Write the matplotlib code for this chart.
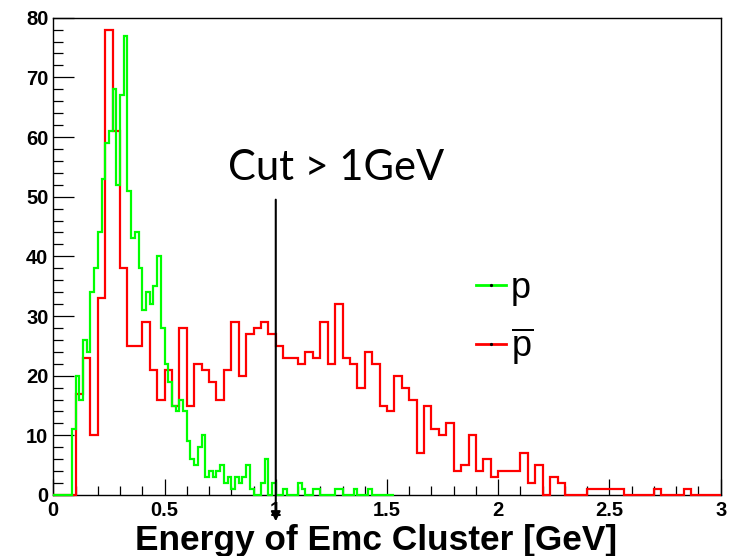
import numpy as np
import matplotlib
matplotlib.use("Agg")
import matplotlib.pyplot as plt
from matplotlib.lines import Line2D
from matplotlib.ticker import MultipleLocator, FixedLocator

# Bin contents of the cluster-energy histograms
# protons: bins of 1/60 GeV starting at 0
p_counts = [
    0, 0, 0, 0, 0, 11, 20, 16, 26, 24,
    34, 38, 44, 53, 59, 61, 68, 52, 67, 77,
    51, 43, 44, 38, 31, 34, 32, 35, 40, 28,
    22, 19, 15, 14, 16, 14, 9, 6, 5, 8,
    10, 3, 4, 3, 4, 5, 2, 3, 1, 3,
    2, 3, 5, 1, 0, 0, 2, 6, 0, 2,
    0, 0, 1, 0, 0, 0, 2, 1, 0, 0,
    1, 1, 0, 0, 0, 0, 1, 1, 0, 0,
    0, 1, 0, 0, 0, 1, 0, 0, 0, 0,
    0, 0,
]
p_bin_width = 1.0 / 60

# antiprotons: bins of 1/30 GeV from 0 to 3
pbar_counts = [
    0, 0, 0, 17, 23, 10, 33, 78, 61, 38,
    25, 25, 29, 21, 16, 21, 15, 28, 15, 22,
    21, 19, 16, 21, 29, 20, 27, 28, 29, 27,
    25, 23, 23, 22, 24, 23, 29, 22, 32, 23,
    22, 18, 24, 22, 15, 14, 20, 18, 16, 7,
    15, 11, 10, 12, 4, 5, 10, 4, 6, 3,
    4, 4, 4, 7, 2, 5, 0, 3, 2, 0,
    0, 0, 1, 1, 1, 1, 1, 0, 0, 0,
    0, 1, 0, 0, 0, 1, 0, 0, 0, 0,
]
pbar_bin_width = 1.0 / 30

x_ticks = [0, 0.5, 1, 1.5, 2, 2.5, 3]
x_tick_labels = ["0", "0.5", "1", "1.5", "2", "2.5", "3"]
y_ticks = [0, 10, 20, 30, 40, 50, 60, 70, 80]
y_tick_labels = [str(v) for v in y_ticks]
cut_value = 1.0
cut_label = "Cut > 1GeV"
x_title = "Energy of Emc Cluster [GeV]"
legend_labels = ["p", r"$\overline{\mathregular{p}}$"]

GREEN = "#00ff00"
RED = "#ff0000"

plt.rcParams["mathtext.fontset"] = "custom"
plt.rcParams["mathtext.rm"] = "Liberation Sans"
plt.rcParams["font.family"] = ["Liberation Sans", "DejaVu Sans"]

fig = plt.figure(figsize=(7.3, 5.56), dpi=100)
ax = fig.add_axes([53.3 / 730, 61 / 556, 667.4 / 730, 477.3 / 556])

pbar_edges = np.arange(len(pbar_counts) + 1) * pbar_bin_width
p_edges = np.arange(len(p_counts) + 1) * p_bin_width
ax.stairs(pbar_counts, pbar_edges, color=RED, lw=1.6, zorder=3, clip_on=False)
ax.stairs(p_counts, p_edges, color=GREEN, lw=1.6, zorder=4, clip_on=False)

ax.set_xlim(0, 3)
ax.set_ylim(0, 80)

for s in ax.spines.values():
    s.set_linewidth(1.0)
    s.set_color("black")

ax.xaxis.set_major_locator(FixedLocator(x_ticks))
ax.set_xticklabels(x_tick_labels)
ax.yaxis.set_major_locator(FixedLocator(y_ticks))
ax.set_yticklabels(y_tick_labels)
ax.xaxis.set_minor_locator(MultipleLocator(0.1))
ax.yaxis.set_minor_locator(MultipleLocator(2))

ax.tick_params(axis="both", which="both", direction="in", top=False, right=False,
               width=0.9, color="black")
ax.tick_params(axis="x", which="major", length=11.5, pad=4)
ax.tick_params(axis="x", which="minor", length=6.5)
ax.tick_params(axis="y", which="major", length=15, pad=3.5)
ax.tick_params(axis="y", which="minor", length=7.5)
for lab in ax.get_xticklabels() + ax.get_yticklabels():
    lab.set_fontsize(14.5)
    lab.set_fontweight("bold")

fig.text(376 / 730, 6 / 556, x_title, ha="center", va="baseline",
         fontsize=25.4, fontweight="bold")

# legend
handles = [
    Line2D([], [], color=GREEN, lw=2, marker="o", ms=1.3, mfc="k", mec="k"),
    Line2D([], [], color=RED, lw=2, marker="o", ms=1.3, mfc="k", mec="k"),
]
ax.legend(handles, legend_labels, loc="upper left", bbox_to_anchor=(0.633, 0.47),
          frameon=False, fontsize=26, handlelength=0.83, handletextpad=0.15,
          labelspacing=0.55, borderpad=0, borderaxespad=0)

# cut marker
ax.annotate("", xy=(cut_value, -4.4), xytext=(cut_value, 49.5),
            arrowprops=dict(arrowstyle="-|>", color="black", lw=1.5,
                            mutation_scale=14, shrinkA=0, shrinkB=0),
            annotation_clip=False, zorder=6)
fig.text(228 / 730, 1 - 180 / 556, cut_label, ha="left", va="baseline",
         fontsize=30, family=["Lato", "DejaVu Sans"])

fig.savefig("out.png", dpi=100)
